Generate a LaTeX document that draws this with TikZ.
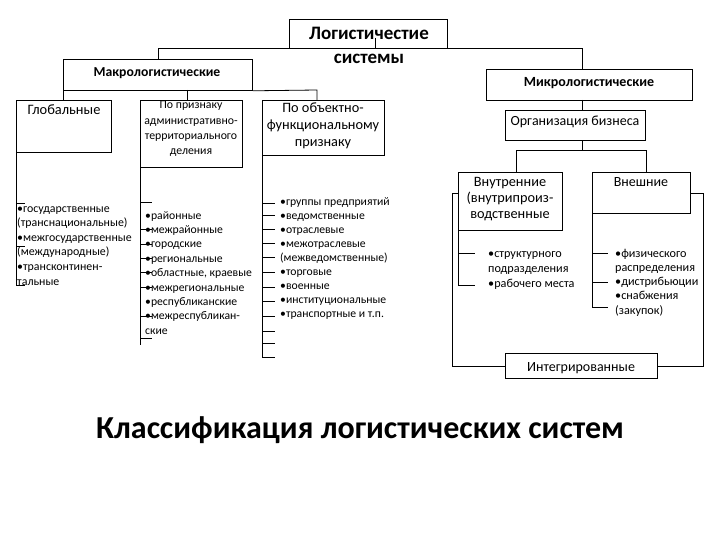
\documentclass[tikz,border=0pt]{standalone}
\usepackage{fontspec}
\setmainfont{Carlito}
\begin{document}
\begin{tikzpicture}[x=1pt,y=-1pt,
  ln/.style={line width=0.8pt},
  box/.style={draw, line width=0.8pt, inner sep=0pt, anchor=north west},
  lst/.style={inner sep=0pt, align=left, anchor=base west, font=\fontsize{11.7}{14.4}\selectfont},
  btxt/.style={inner sep=0pt, align=center, anchor=base, font=\fontsize{14}{16}\selectfont},
]
\useasboundingbox[fill=white] (0,0) rectangle (720,540);

% boxes
\node[box, minimum width=158pt, minimum height=29pt] (title) at (289,19) {};
\node[box, minimum width=189pt, minimum height=31pt] (macro) at (63,59) {};
\node[box, minimum width=206pt, minimum height=31pt] (micro) at (486,69) {};
\node[box, minimum width=95pt, minimum height=52pt] (glob) at (16,100) {};
\node[box, minimum width=102pt, minimum height=67pt] (adm) at (140,100) {};
\node[box, minimum width=122pt, minimum height=55pt] (obj) at (262,100) {};
\node[box, minimum width=140pt, minimum height=30pt] (org) at (505,110) {};
\node[box, minimum width=104pt, minimum height=58pt] (inner) at (458,172) {};
\node[box, minimum width=98pt, minimum height=41pt] (outer) at (592,172) {};
\node[box, minimum width=152pt, minimum height=25pt] (integ) at (505,353) {};

% texts (multi-line nodes: base anchor is on the last line)
\node[inner sep=0pt, align=center, font=\fontsize{19}{24}\selectfont\bfseries] (titletxt) at (369,45) {Логистичестие\\системы};
\node[inner sep=0pt, font=\fontsize{13.7}{15}\selectfont\bfseries] (macrotxt) at (157,73) {Макрологистические};
\node[inner sep=0pt, font=\fontsize{14}{15}\selectfont\bfseries] (microtxt) at (589,83) {Микрологистические};
\node[btxt, font=\fontsize{14.4}{16}\selectfont] (globtxt) at (64,115) {Глобальные};
\node[btxt, font=\fontsize{11.8}{15.2}\selectfont] (admtxt) at (191,154.6) {По признаку\\административно-\\территориального\\деления};
\node[btxt, font=\fontsize{14.3}{17}\selectfont] (objtxt) at (323,146.5) {По объектно-\\функциональному\\признаку};
\node[btxt] (orgtxt) at (575,126) {Организация бизнеса};
\node[btxt, font=\fontsize{14.3}{16}\selectfont] (innertxt) at (510,218.5) {Внутренние\\(внутрипроиз-\\водственные};
\node[btxt] (outertxt) at (641,187) {Внешние};
\node[btxt] (integtxt) at (581,371) {Интегрированные};

% lists
\node[lst, font=\fontsize{11.9}{14.6}\selectfont] (globlist) at (17,285) {•государственные\\(транснациональные)\\•межгосударственные\\(международные)\\•трансконтинен-\\тальные};
\node[lst] (admlist) at (145,334.2) {•районные\\•межрайонные\\•городские\\•региональные\\•областные, краевые\\•межрегиональные\\•республиканские\\•межреспубликан-\\ские};
\node[lst, font=\fontsize{11.7}{14.1}\selectfont] (objlist) at (280,317.8) {•группы предприятий\\•ведомственные\\•отраслевые\\•межотраслевые\\(межведомственные)\\•торговые\\•военные\\•институциональные\\•транспортные и т.п.};
\node[lst, font=\fontsize{12.2}{15}\selectfont] (innerlist) at (488,287) {•структурного\\подразделения\\•рабочего места};
\node[lst, font=\fontsize{12.2}{14.3}\selectfont] (outerlist) at (615,314.2) {•физического\\распределения\\•дистрибьюции\\•снабжения\\(закупок)};

\node[inner sep=0pt, font=\fontsize{32}{36}\selectfont\bfseries] (cls) at (360,430) {Классификация логистических систем};

% top connectors
\coordinate (stub) at (375,38);
\draw[ln] (stub) -- (stub |- title.south);
\draw[ln] (macro.north) |- (title.south west);
\coordinate (microdrop) at (582,69);
\draw[ln] (title.south east) -| (microdrop);

% macro bus
\coordinate (busR) at (317,90);
\coordinate (admdrop) at (187,90);
\draw[ln] (macro.south east) -- (busR) -- (busR |- obj.north);
\draw[ln] (macro.south west) -- (macro.south west |- glob.north);
\draw[ln] (admdrop) -- (admdrop |- adm.north);

% micro tree
\coordinate (orgdrop) at (582,100);
\draw[ln] (orgdrop) -- (orgdrop |- org.north);
\coordinate (orgbus) at (582,150);
\coordinate (innerdrop) at (516,150);
\coordinate (outerdrop) at (646,150);
\draw[ln] (orgdrop |- org.south) -- (orgbus);
\draw[ln] (innerdrop |- inner.north) -- (innerdrop) -- (outerdrop) -- (outerdrop |- outer.north);

% integrated loop
\coordinate (li) at (458,193);
\coordinate (lo) at (690,193);
\draw[ln] (li) -- (452,193) |- (integ.west);
\draw[ln] (lo) -- (703,193) |- (integ.east);

% list spines and ticks
\draw[ln] (glob.south west) -- (16,285);
\foreach \y in {203,246,285} \draw[ln] (16,\y) -- ++(9,0);
\draw[ln] (adm.south west) -- (140,345);
\foreach \y in {202,229,244,258,272,287,316,338} \draw[ln] (140,\y) -- ++(12,0);
\draw[ln] (obj.south west) -- (262,357);
\foreach \y in {203,215,229,243,257,272,287,301,316,331,343,357} \draw[ln] (262,\y) -- ++(13,0);
\draw[ln] (inner.south west) -- (458,285);
\foreach \y in {253,285} \draw[ln] (458,\y) -- ++(17,0);
\draw[ln] (outer.south west) -- (592,307);
\foreach \y in {253,282,307} \draw[ln] (592,\y) -- ++(16,0);
\end{tikzpicture}
\end{document}
